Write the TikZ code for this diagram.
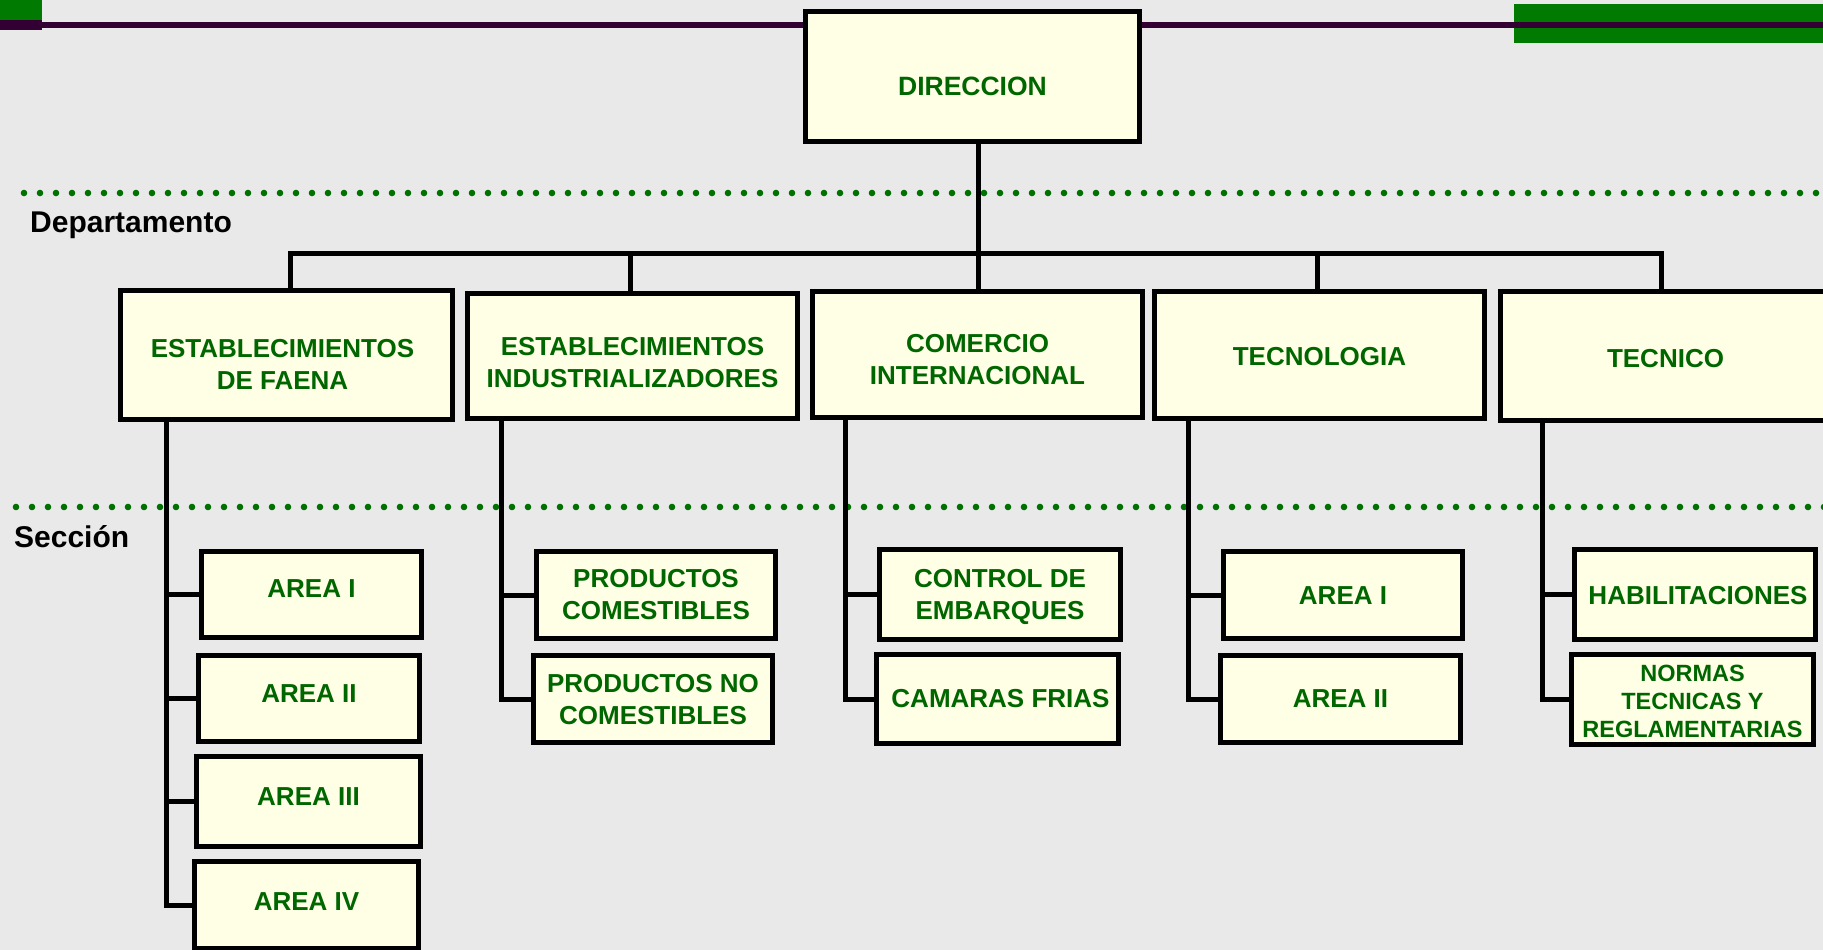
\documentclass[tikz,border=0pt]{standalone}
\usepackage{fontspec}
\setmainfont{Liberation Sans}
\definecolor{bg}{RGB}{233,233,233}
\definecolor{boxfill}{RGB}{255,255,230}
\definecolor{txtgreen}{RGB}{0,102,0}
\definecolor{dotgreen}{RGB}{0,112,0}
\definecolor{bargreen}{RGB}{0,122,0}
\definecolor{plum}{RGB}{51,0,51}
\begin{document}
\begin{tikzpicture}[x=1pt,y=-1pt,
  box/.style={draw=black, line width=5pt, fill=boxfill, rectangle, inner sep=0pt},
  txt/.style={text=txtgreen, font=\bfseries\fontsize{26}{32}\selectfont, align=center, inner sep=0pt},
  small/.style={font=\bfseries\fontsize{23.5}{28.3}\selectfont},
  conn/.style={draw=black, line width=5pt},
  lvl/.style={font=\bfseries\fontsize{30}{36}\selectfont, anchor=west, inner sep=0pt, text height=21.5pt, text depth=0pt},
  gdot/.style={fill=dotgreen}]
\useasboundingbox (0,0) rectangle (1823,950);
\clip (0,0) rectangle (1823,950);
\fill[bg] (0,0) rectangle (1823,950);

% top decoration
\fill[bargreen] (0,0) rectangle (42,20);
\fill[plum] (0,20) rectangle (42,30);
\fill[bargreen] (1514,4) rectangle (1823,43);
\draw[plum, line width=6pt] (0,25.5) -- (1823,25.5);

% dotted level lines
\foreach \i in {0,...,113} \fill[gdot] (24+16*\i,193) circle (3.3);
\foreach \i in {0,...,113} \fill[gdot] (16+16*\i,507) circle (3.3);
\node[lvl] (dep) at (30,222) {Departamento};
\node[lvl] (sec) at (14,537) {Sección};

% boxes
\node[box, minimum width=334, minimum height=130] (dir) at (972.5,76.5) {};
\node[box, minimum width=332, minimum height=129] (d1) at (286.5,355) {};
\node[box, minimum width=330, minimum height=125] (d2) at (632.5,356) {};
\node[box, minimum width=330, minimum height=126] (d3) at (977.5,354.5) {};
\node[box, minimum width=330, minimum height=127] (d4) at (1319.5,355) {};
\node[box, minimum width=330, minimum height=129] (d5) at (1665.5,356) {};

\node[box, minimum width=220, minimum height=86] (a1) at (311.5,594) {};
\node[box, minimum width=221, minimum height=86] (a2) at (309,698.5) {};
\node[box, minimum width=224, minimum height=90] (a3) at (308.5,801.5) {};
\node[box, minimum width=224, minimum height=87] (a4) at (306.5,905) {};
\node[box, minimum width=239, minimum height=87] (p1) at (656,595) {};
\node[box, minimum width=239, minimum height=87] (p2) at (653,699) {};
\node[box, minimum width=241, minimum height=90] (c1) at (1000,594.5) {};
\node[box, minimum width=242, minimum height=89] (c2) at (997.5,699) {};
\node[box, minimum width=239, minimum height=87] (t1) at (1343,595) {};
\node[box, minimum width=240, minimum height=87] (t2) at (1340.5,699) {};
\node[box, minimum width=241, minimum height=90] (h1) at (1695,594.5) {};
\node[box, minimum width=242, minimum height=90] (h2) at (1692.5,699.5) {};

% texts
\node[txt, font=\bfseries\fontsize{26.5}{32}\selectfont] (dirT) at ([yshift=-9.5pt]dir.center) {DIRECCION};
\node[txt] (d1T) at ([xshift=-4pt,yshift=-9pt]d1.center) {ESTABLECIMIENTOS\\DE FAENA};
\node[txt] (d2T) at ([yshift=-7pt]d2.center) {ESTABLECIMIENTOS\\INDUSTRIALIZADORES};
\node[txt] (d3T) at ([yshift=-5.5pt]d3.center) {COMERCIO\\INTERNACIONAL};
\node[txt] (d4T) at ([yshift=-2pt]d4.center) {TECNOLOGIA};
\node[txt] (d5T) at ([yshift=-3pt]d5.center) {TECNICO};
\node[txt] (a1T) at ([yshift=5pt]a1.center) {AREA I};
\node[txt] (a2T) at ([yshift=4.5pt]a2.center) {AREA II};
\node[txt] (a3T) at ([yshift=4.5pt]a3.center) {AREA III};
\node[txt] (a4T) at ([yshift=3.5pt]a4.center) {AREA IV};
\node[txt] (p1T) at (p1.center) {PRODUCTOS\\COMESTIBLES};
\node[txt] (p2T) at ([yshift=-1pt]p2.center) {PRODUCTOS NO\\COMESTIBLES};
\node[txt] (c1T) at ([yshift=-2pt]c1.center) {CONTROL DE\\EMBARQUES};
\node[txt] (c2T) at ([xshift=3pt]c2.center) {CAMARAS FRIAS};
\node[txt] (t1T) at ([yshift=-1pt]t1.center) {AREA I};
\node[txt] (t2T) at (t2.center) {AREA II};
\node[txt] (h1T) at ([xshift=3pt,yshift=-1.5pt]h1.center) {HABILITACIONES};
\node[txt, small] (h2T) at ([yshift=-2pt]h2.center) {NORMAS\\TECNICAS Y\\REGLAMENTARIAS};

% connectors: direction to departments
\coordinate (v1) at (290,253);
\coordinate (v2) at (630,253);
\coordinate (v3) at (978,253);
\coordinate (v4) at (1317,253);
\coordinate (v5) at (1661,253);
\draw[conn] (dir.south -| v3) -- (v3 |- d3.north);
\draw[conn] (v1 |- d1.north) -- (v1) -- (v5) -- (v5 |- d5.north);
\draw[conn] (v2) -- (v2 |- d2.north);
\draw[conn] (v4) -- (v4 |- d4.north);

% connectors: departments to sections
\coordinate (s1) at (166,0);
\coordinate (s2) at (501,0);
\coordinate (s3) at (845,0);
\coordinate (s4) at (1188,0);
\coordinate (s5) at (1542,0);
\draw[conn] (d1.south -| s1) |- (a4.west);
\draw[conn] (s1 |- a1.west) -- (a1.west);
\draw[conn] (s1 |- a2.west) -- (a2.west);
\draw[conn] (s1 |- a3.west) -- (a3.west);
\draw[conn] (d2.south -| s2) |- (p2.west);
\draw[conn] (s2 |- p1.west) -- (p1.west);
\draw[conn] (d3.south -| s3) |- (c2.west);
\draw[conn] (s3 |- c1.west) -- (c1.west);
\draw[conn] (d4.south -| s4) |- (t2.west);
\draw[conn] (s4 |- t1.west) -- (t1.west);
\draw[conn] (d5.south -| s5) |- (h2.west);
\draw[conn] (s5 |- h1.west) -- (h1.west);
\end{tikzpicture}
\end{document}
